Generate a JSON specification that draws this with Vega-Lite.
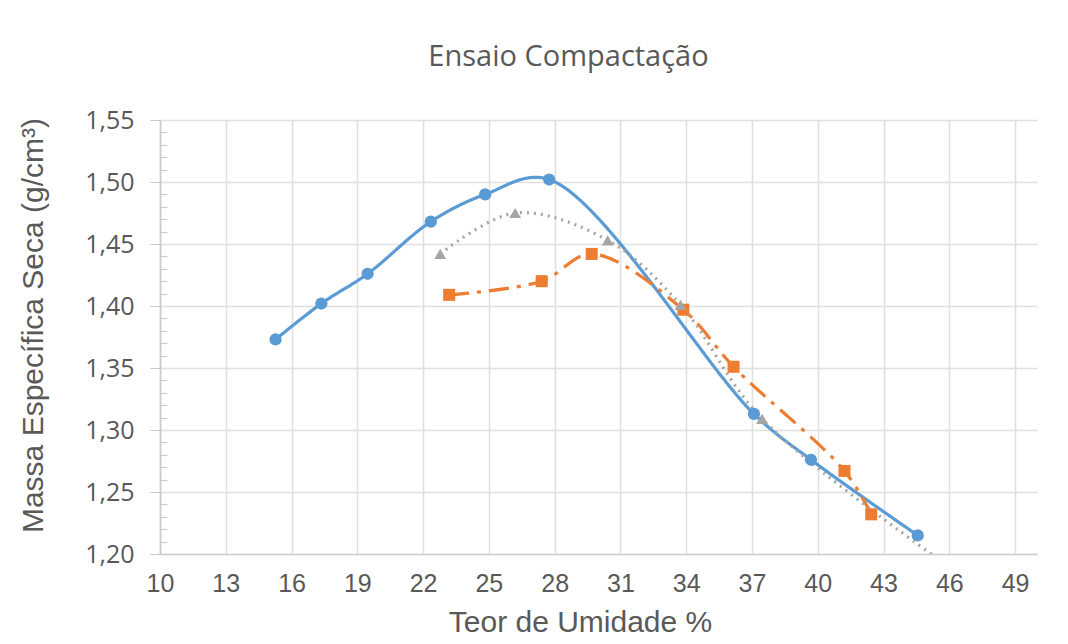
{
  "$schema": "https://vega.github.io/schema/vega-lite/v6.json",
  "width": 877,
  "height": 434,
  "autosize": {"type": "none"},
  "padding": {"left": 160, "top": 120, "right": 31, "bottom": 90},
  "background": "white",
  "title": {"text": "Ensaio Compactação", "fontSize": 29, "font": "Open Sans", "fontWeight": "normal", "color": "#595959", "anchor": "middle", "dx": -30, "offset": 36},
  "config": {"view": {"stroke": null}},
  "data": {"values": [
    {"serie": "A", "x": 15.27, "y": 1.373},
    {"serie": "A", "x": 17.36, "y": 1.402},
    {"serie": "A", "x": 19.47, "y": 1.426},
    {"serie": "A", "x": 22.35, "y": 1.468},
    {"serie": "A", "x": 24.83, "y": 1.49},
    {"serie": "A", "x": 27.75, "y": 1.502},
    {"serie": "A", "x": 37.09, "y": 1.313},
    {"serie": "A", "x": 39.69, "y": 1.276},
    {"serie": "A", "x": 44.56, "y": 1.215},
    {"serie": "B", "x": 23.19, "y": 1.409},
    {"serie": "B", "x": 27.41, "y": 1.42},
    {"serie": "B", "x": 29.69, "y": 1.442},
    {"serie": "B", "x": 33.87, "y": 1.397},
    {"serie": "B", "x": 36.16, "y": 1.351},
    {"serie": "B", "x": 41.22, "y": 1.267},
    {"serie": "B", "x": 42.44, "y": 1.232},
    {"serie": "C", "x": 22.78, "y": 1.442},
    {"serie": "C", "x": 26.2, "y": 1.475},
    {"serie": "C", "x": 30.42, "y": 1.453},
    {"serie": "C", "x": 33.74, "y": 1.401},
    {"serie": "C", "x": 37.46, "y": 1.309},
    {"serie": "C", "x": 47.0, "y": 1.177}
  ]},
  "resolve": {"axis": {"y": "independent"}},
  "layer": [
    {
      "mark": {"type": "line", "interpolate": "catmull-rom", "strokeWidth": 3.2, "clip": true},
      "encoding": {
        "x": {"field": "x", "type": "quantitative", "scale": {"domain": [10, 50], "nice": false, "zero": false},
          "axis": {"values": [10, 13, 16, 19, 22, 25, 28, 31, 34, 37, 40, 43, 46, 49], "title": "Teor de Umidade %", "titleFont": "Liberation Sans", "titleFontSize": 30, "titleFontWeight": "normal", "titleColor": "#595959", "titlePadding": 11, "titleX": 420, "labelFont": "Liberation Sans", "labelFontSize": 25, "labelColor": "#595959", "labelPadding": 17, "ticks": false, "domainColor": "#d0d0d0", "domainWidth": 1.5, "gridColor": "#e0e0e0", "gridWidth": 1.5, "labelFlush": false}},
        "y": {"field": "y", "type": "quantitative", "scale": {"domain": [1.2, 1.55], "nice": false, "zero": false},
          "axis": {"orient": "left", "values": [1.2, 1.25, 1.3, 1.35, 1.4, 1.45, 1.5, 1.55], "labelExpr": "replace(format(datum.value, '.2f'), '.', ',')", "title": "Massa Específica Seca (g/cm³)", "titleFont": "Liberation Sans", "titleFontSize": 30, "titleFontWeight": "normal", "titleColor": "#595959", "titlePadding": 36, "titleY": 205, "labelFont": "Open Sans", "labelFontSize": 25, "labelColor": "#595959", "labelPadding": 16, "tickSize": 10, "tickColor": "#c8c8c8", "domainColor": "#c8c8c8", "domainWidth": 1.5, "gridColor": "#e0e0e0", "gridWidth": 1.5}},
        "color": {"field": "serie", "type": "nominal", "scale": {"domain": ["A", "B", "C"], "range": ["#5b9bd5", "#ed7d31", "#a5a5a5"]}, "legend": null},
        "strokeDash": {"field": "serie", "type": "nominal", "scale": {"domain": ["A", "B", "C"], "range": [[1, 0], [20, 8, 4, 8], [2, 5]]}, "legend": null}
      }
    },
    {
      "mark": {"type": "point", "filled": true, "opacity": 1, "clip": true},
      "encoding": {
        "x": {"field": "x", "type": "quantitative"},
        "y": {"field": "y", "type": "quantitative",
          "axis": {"orient": "left", "values": [1.21, 1.22, 1.23, 1.24, 1.26, 1.27, 1.28, 1.29, 1.31, 1.32, 1.33, 1.34, 1.36, 1.37, 1.38, 1.39, 1.41, 1.42, 1.43, 1.44, 1.46, 1.47, 1.48, 1.49, 1.51, 1.52, 1.53, 1.54], "labels": false, "title": null, "grid": false, "domain": false, "tickSize": -7, "tickColor": "#cccccc", "tickWidth": 1.2}},
        "color": {"field": "serie", "type": "nominal", "scale": {"domain": ["A", "B", "C"], "range": ["#5b9bd5", "#ed7d31", "#a5a5a5"]}, "legend": null},
        "shape": {"field": "serie", "type": "nominal", "scale": {"domain": ["A", "B", "C"], "range": ["circle", "square", "triangle-up"]}, "legend": null},
        "size": {"field": "serie", "type": "nominal", "scale": {"domain": ["A", "B", "C"], "range": [150, 140, 110]}, "legend": null}
      }
    }
  ]
}
